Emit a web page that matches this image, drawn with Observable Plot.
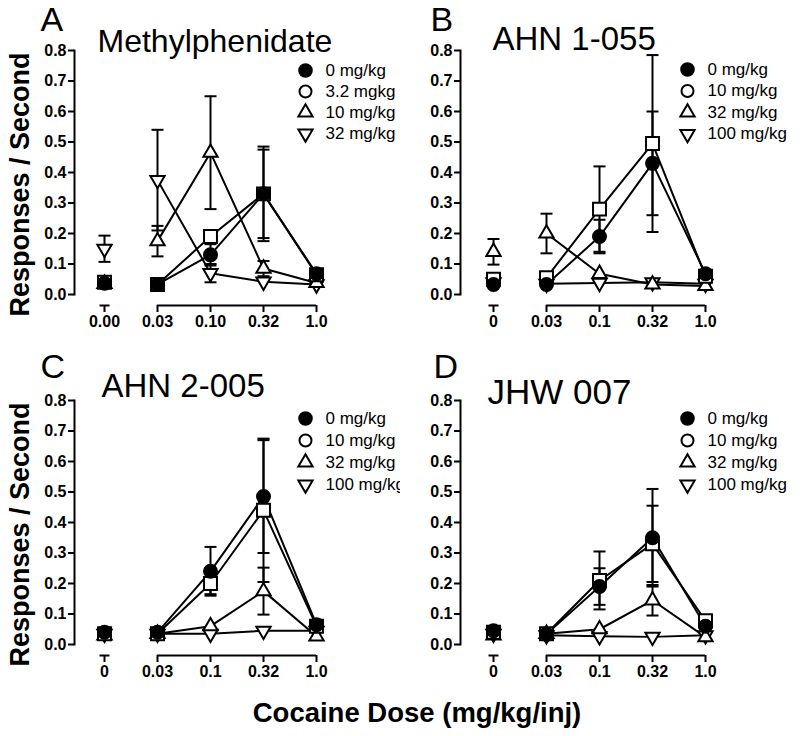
<!DOCTYPE html>
<html><head><meta charset="utf-8">
<script src="https://cdn.jsdelivr.net/npm/d3@7"></script>
<script src="https://cdn.jsdelivr.net/npm/@observablehq/plot@0.6"></script>
<style>
body{margin:0;background:#fff;}
#wrap{position:relative;width:800px;height:736px;font-family:"Liberation Sans",Arial,Helvetica,sans-serif;color:#000;}
.panel{position:absolute;}
#xlabel{position:absolute;left:0;top:698px;width:834px;text-align:center;font-size:27.5px;line-height:30px;font-weight:bold;}
</style></head><body>
<div id="wrap"><div id="xlabel">Cocaine Dose (mg/kg/inj)</div></div>
<script>
// ---------- data ----------
const dosesA = ["0.00", "0.03", "0.10", "0.32", "1.0"];
const dosesBCD = ["0", "0.03", "0.1", "0.32", "1.0"];
const yTicks = [0, 0.1, 0.2, 0.3, 0.4, 0.5, 0.6, 0.7, 0.8];
const seriesA = ["0 mg/kg", "3.2 mgkg", "10 mg/kg", "32 mg/kg"];
const seriesBCD = ["0 mg/kg", "10 mg/kg", "32 mg/kg", "100 mg/kg"];
const titles = ["Methylphenidate", "AHN 1-055", "AHN 2-005", "JHW 007"];
const letters = ["A", "B", "C", "D"];

// means per series (rows) by dose (columns), and SEM
const meanA = [[0.037, 0.033, 0.13, 0.33, 0.068], [0.04, 0.033, 0.19, 0.33, 0.065], [0.035, 0.175, 0.465, 0.085, 0.038], [0.15, 0.375, 0.07, 0.042, 0.033]];
const semA  = [[0.012, 0, 0.035, 0.155, 0], [0, 0, 0, 0.145, 0], [0, 0.05, 0.185, 0.025, 0], [0.043, 0.165, 0.03, 0, 0]];
const meanB = [[0.033, 0.033, 0.19, 0.43, 0.068], [0.05, 0.055, 0.28, 0.495, 0.06], [0.14, 0.2, 0.068, 0.033, 0.028], [0.04, 0.035, 0.038, 0.04, 0.035]];
const semB  = [[0, 0, 0.055, 0.17, 0], [0, 0, 0.14, 0.29, 0], [0.042, 0.065, 0, 0, 0], [0, 0, 0, 0, 0]];
const meanC = [[0.04, 0.04, 0.24, 0.485, 0.065], [0.035, 0.035, 0.20, 0.44, 0.06], [0.03, 0.035, 0.06, 0.175, 0.027], [0.035, 0.035, 0.035, 0.045, 0.045]];
const semC  = [[0, 0, 0.08, 0.185, 0], [0, 0, 0.035, 0.235, 0], [0, 0, 0, 0.077, 0], [0, 0, 0, 0, 0]];
const meanD = [[0.045, 0.034, 0.19, 0.35, 0.06], [0.04, 0.035, 0.21, 0.33, 0.078], [0.03, 0.035, 0.05, 0.145, 0.024], [0.035, 0.03, 0.027, 0.025, 0.03]];
const semD  = [[0, 0, 0.06, 0.16, 0], [0, 0, 0.095, 0.125, 0], [0, 0, 0, 0.05, 0], [0, 0, 0, 0, 0]];

// ---------- layout / style ----------
const FONT = '"Liberation Sans", Arial, Helvetica, sans-serif';
// horizontal bar symbol (half-width = r) for error-bar caps
const capSymbol = {draw(ctx, size) { const w = Math.sqrt(size / Math.PI); ctx.moveTo(-w, 0); ctx.lineTo(w, 0); }};
const dotStyle = [
  {symbol: "circle", r: 6.5, fill: "black", rotate: 0},
  {symbol: "square", r: 7.3, fill: "white", rotate: 0},
  {symbol: "triangle", r: 5.3, fill: "white", rotate: 0},
  {symbol: "triangle", r: 5.3, fill: "white", rotate: 180}
];
const legStyle = [
  {symbol: "circle", r: 6.3, fill: "black", rotate: 0},
  {symbol: "circle", r: 6.0, fill: "white", rotate: 0},
  {symbol: "triangle", r: 5.3, fill: "white", rotate: 0},
  {symbol: "triangle", r: 5.3, fill: "white", rotate: 180}
];
const panels = [
  {left: 0, top: 0, ml: 74, xr: [103, 316], doses: dosesA, series: seriesA, mean: meanA, sem: semA, title: titles[0], letter: letters[0],
   titleSize: 32, titleDx: 23, titleDy: -9, letterDx: -34, letterDy: -30, legDx: 231, legDy: 20, legGap: 21, ylabel: true},
  {left: 400, top: 0, ml: 60, xr: [93, 305], doses: dosesBCD, series: seriesBCD, mean: meanB, sem: semB, title: titles[1], letter: letters[1],
   titleSize: 33, titleDx: 32, titleDy: -11, letterDx: -30, letterDy: -30, legDx: 227, legDy: 19, legGap: 21.5, ylabel: false},
  {left: 0, top: 350, ml: 74, xr: [103, 316], doses: dosesBCD, series: seriesBCD, mean: meanC, sem: semC, title: titles[2], letter: letters[2],
   titleSize: 33, titleDx: 27, titleDy: -14, letterDx: -34, letterDy: -33, legDx: 231, legDy: 18, legGap: 22, ylabel: true},
  {left: 400, top: 350, ml: 60, xr: [93, 305], doses: dosesBCD, series: seriesBCD, mean: meanD, sem: semD, title: titles[3], letter: letters[3],
   titleSize: 35, titleDx: 27, titleDy: -8, letterDx: -27, letterDy: -33, legDx: 227, legDy: 18, legGap: 22, ylabel: false}
];

function drawPanel(p) {
  const rows = [];
  p.mean.forEach((m, i) => m.forEach((v, j) => rows.push({dose: p.doses[j], s: i, y: v, e: p.sem[i][j]})));
  const curve = rows.filter(d => d.dose !== p.doses[0]);
  const bars = rows.filter(d => d.e > 0);
  const marks = [
    Plot.frame({anchor: "left", strokeWidth: 2}),
    Plot.axisY({ticks: yTicks, tickFormat: d3.format(".1f"), tickSize: 6, tickPadding: 2, fontSize: 16, fontWeight: "bold", strokeWidth: 2, label: null}),
    Plot.axisX({ticks: p.doses, tickSize: 7, dy: 11, tickPadding: 3, fontSize: 16, fontWeight: "bold", strokeWidth: 2, label: null}),
    Plot.ruleY([{a: p.doses[1], b: p.doses[4]}], {x1: "a", x2: "b", y: () => 0, dy: 11, strokeWidth: 2}),
    Plot.dot([p.doses[0]], {x: d => d, y: () => 0, dy: 11, symbol: capSymbol, r: 5, stroke: "black", fill: "none", strokeWidth: 2}),
    Plot.line(curve, {x: "dose", y: "y", z: "s", stroke: "black", strokeWidth: 2}),
    Plot.ruleX(bars, {x: "dose", y1: d => d.y - d.e, y2: d => d.y + d.e, stroke: "black", strokeWidth: 2}),
    Plot.dot(bars, {x: "dose", y: d => d.y + d.e, symbol: capSymbol, r: 6, stroke: "black", fill: "none", strokeWidth: 2}),
    Plot.dot(bars, {x: "dose", y: d => d.y - d.e, symbol: capSymbol, r: 6, stroke: "black", fill: "none", strokeWidth: 2})
  ];
  [3, 2, 1, 0].forEach(i => {
    const st = dotStyle[i];
    marks.push(Plot.dot(rows.filter(d => d.s === i), {x: "dose", y: "y", symbol: st.symbol, r: st.r, fill: st.fill, stroke: "black", strokeWidth: 2, rotate: st.rotate}));
  });
  p.series.forEach((name, i) => {
    const st = legStyle[i];
    marks.push(Plot.dot([name], {frameAnchor: "top-left", dx: p.legDx, dy: p.legDy + i * p.legGap, symbol: st.symbol, r: st.r, fill: st.fill, stroke: "black", strokeWidth: 2, rotate: st.rotate}));
    marks.push(Plot.text([name], {frameAnchor: "top-left", dx: p.legDx + 20, dy: p.legDy + i * p.legGap, textAnchor: "start", lineAnchor: "middle", fontSize: 17}));
  });
  marks.push(Plot.text([p.title], {frameAnchor: "top-left", dx: p.titleDx, dy: p.titleDy, textAnchor: "start", lineAnchor: "middle", fontSize: p.titleSize}));
  marks.push(Plot.text([p.letter], {frameAnchor: "top-left", dx: p.letterDx, dy: p.letterDy, textAnchor: "start", lineAnchor: "middle", fontSize: 34}));
  if (p.ylabel) marks.push(Plot.text(["Responses / Second"], {frameAnchor: "left", dx: -54, dy: 12, rotate: -90, textAnchor: "middle", lineAnchor: "middle", fontSize: 27, fontWeight: "bold"}));

  const svg = Plot.plot({
    width: 400, height: 345,
    marginLeft: p.ml, marginTop: 50, marginBottom: 51, marginRight: 10,
    x: {type: "point", domain: p.doses, range: p.xr, padding: 0},
    y: {domain: [0, 0.8]},
    style: {fontFamily: FONT, color: "black", background: "white", overflow: "visible"},
    marks
  });
  svg.classList.add("panel");
  svg.style.left = p.left + "px";
  svg.style.top = p.top + "px";
  svg.style.position = "absolute";
  document.getElementById("wrap").appendChild(svg);
}
panels.forEach(drawPanel);
</script>
</body></html>
